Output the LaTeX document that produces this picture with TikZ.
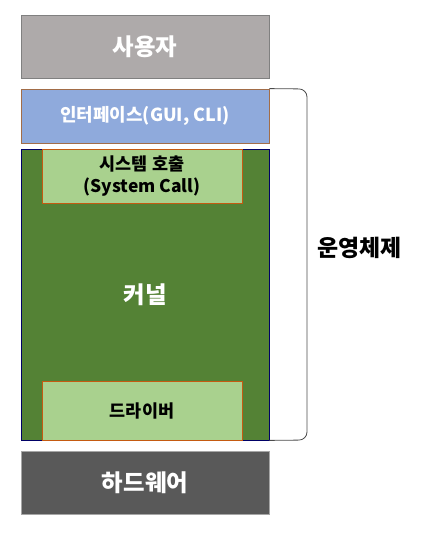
\documentclass[tikz,border=0pt]{standalone}
\usepackage{fontspec}
\setmainfont{Noto Sans CJK KR}
\usepackage{xcolor}
\definecolor{user}{HTML}{AEAAAA}
\definecolor{iface}{HTML}{8FAADC}
\definecolor{kernel}{HTML}{548235}
\definecolor{part}{HTML}{A9D18E}
\definecolor{hw}{HTML}{595959}
\definecolor{rim}{HTML}{C55A11}

\begin{document}
\begin{tikzpicture}[x=1bp,y=-1bp,
    layer/.style={draw, rectangle, minimum width=248bp, inner sep=0pt, line width=0.8bp, font=\bfseries\fontsize{23.5}{26}\selectfont, text=white},
    inner/.style={draw=rim, fill=part, rectangle, minimum width=200bp, inner sep=0pt, line width=0.8bp, font=\bfseries\fontsize{17.5}{23}\selectfont, align=center}]
\useasboundingbox (0,0) rectangle (423,535);
\node[layer, fill=user, draw=gray, minimum height=63bp] (user) at (145,46.5) {사용자};
\node[layer, fill=iface, draw=rim!50!gray, minimum height=54bp, font=\bfseries\fontsize{18}{22}\selectfont] (iface) at (145,116) {인터페이스(GUI, CLI)};
\node[layer, fill=kernel, draw=blue!40!black, minimum height=291bp] (kernel) at (145,294.5) {};
\node[inner, minimum height=54bp] (syscall) at (142,176) {시스템 호출\\(System Call)};
\node[inner, minimum height=59bp] (driver) at (142,410.5) {드라이버};
\node[font=\bfseries\fontsize{23.5}{26}\selectfont, text=white] (kernellabel) at (kernel.center) {커널};
\node[layer, fill=hw, draw=gray!70, minimum height=63bp] (hw) at (145,482.5) {하드웨어};
\coordinate (bracetop) at (307,89);
\coordinate (bracebot) at (307,440);
\draw[gray!60!black, line width=0.8bp, rounded corners=8bp] (iface.north east) -- (bracetop) -- (bracebot) -- (kernel.south east);
\node[font=\bfseries\fontsize{23}{26}\selectfont, anchor=west] (os) at (314,248) {운영체제};
\end{tikzpicture}
\end{document}
